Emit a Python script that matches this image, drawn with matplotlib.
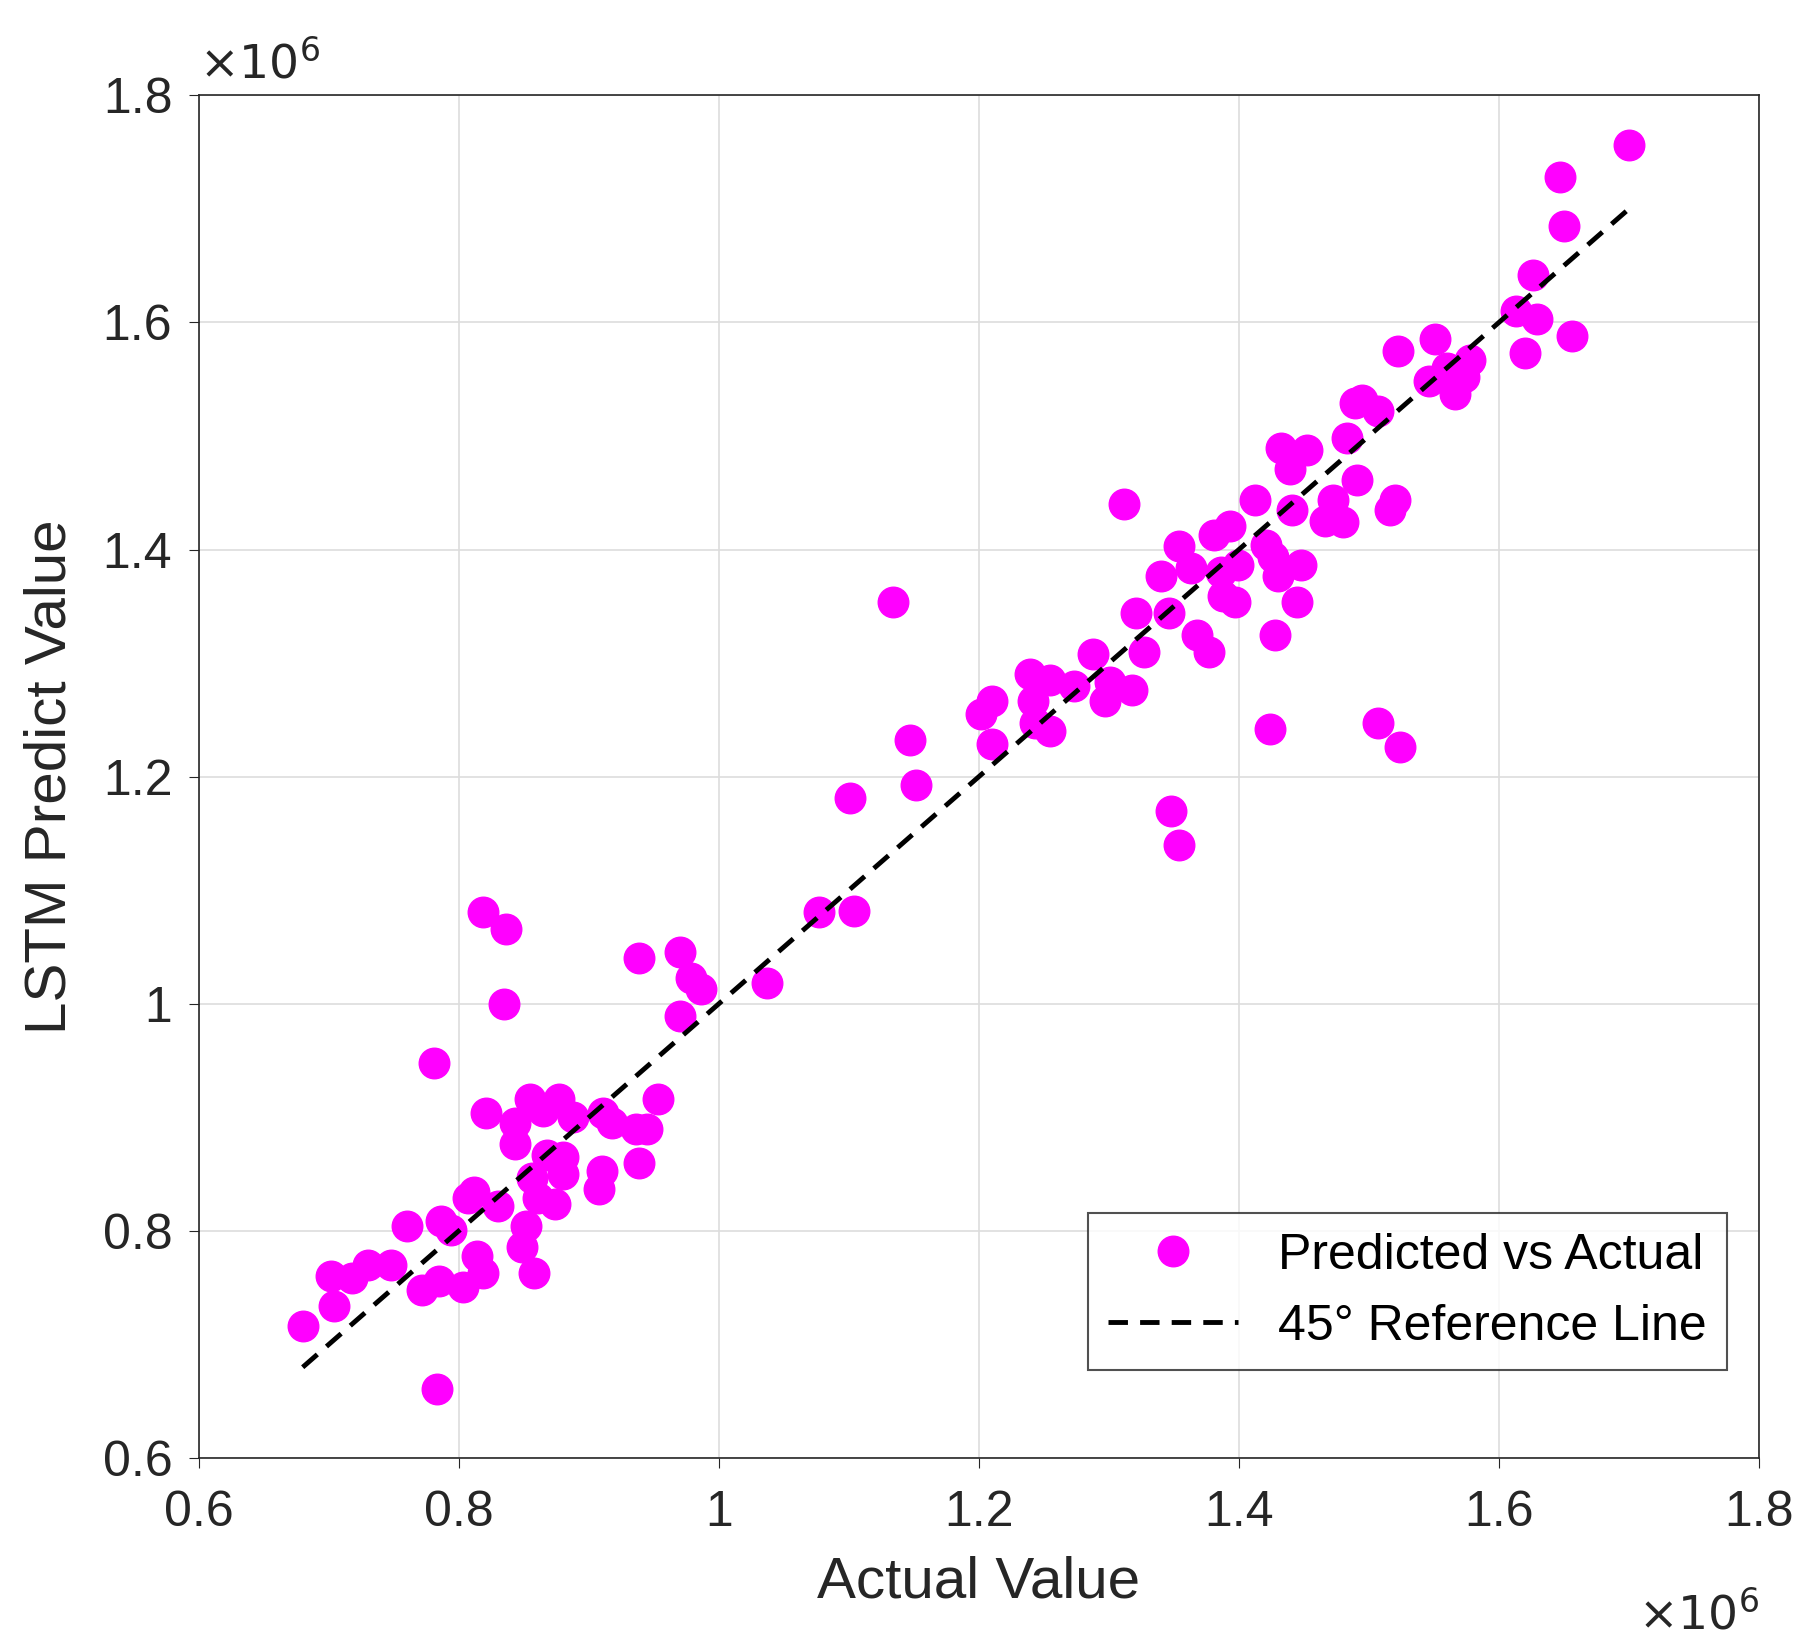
import numpy as np
import matplotlib.pyplot as plt
from matplotlib.ticker import FuncFormatter

plt.rcParams['font.family'] = 'Liberation Sans'

# actual / predicted values (x1e6)
actual = [0.680, 0.702, 0.704, 0.718, 0.730, 0.748, 0.760, 0.772, 0.781, 0.783, 0.786, 0.785,
          0.794, 0.803, 0.807, 0.812, 0.814, 0.819, 0.819, 0.821, 0.830, 0.836, 0.835, 0.843,
          0.843, 0.849, 0.852, 0.855, 0.856, 0.858, 0.861, 0.865, 0.868, 0.874, 0.877, 0.880,
          0.880, 0.888, 0.908, 0.910, 0.911, 0.918, 0.936, 0.939, 0.939, 0.945, 0.953, 0.970,
          0.970, 0.979, 0.986, 1.037, 1.077, 1.104, 1.101, 1.134, 1.147, 1.152, 1.202, 1.210,
          1.210, 1.239, 1.242, 1.243, 1.255, 1.255, 1.273, 1.288, 1.297, 1.301, 1.318, 1.312,
          1.321, 1.327, 1.340, 1.346, 1.348, 1.354, 1.354, 1.363, 1.368, 1.377, 1.381, 1.386,
          1.388, 1.393, 1.397, 1.399, 1.412, 1.421, 1.424, 1.426, 1.428, 1.430, 1.432, 1.439,
          1.441, 1.445, 1.448, 1.452, 1.466, 1.472, 1.480, 1.483, 1.489, 1.491, 1.495, 1.507,
          1.507, 1.516, 1.520, 1.522, 1.524, 1.546, 1.551, 1.560, 1.566, 1.573, 1.578, 1.613,
          1.620, 1.626, 1.629, 1.647, 1.650, 1.656, 1.700]
predicted = [0.716, 0.760, 0.734, 0.759, 0.770, 0.770, 0.804, 0.748, 0.948, 0.661, 0.809, 0.756,
             0.801, 0.751, 0.829, 0.834, 0.778, 0.763, 1.081, 0.904, 0.822, 1.066, 1.000, 0.895,
             0.877, 0.786, 0.804, 0.916, 0.847, 0.763, 0.829, 0.906, 0.867, 0.824, 0.916, 0.865,
             0.850, 0.900, 0.837, 0.853, 0.904, 0.895, 0.890, 0.860, 1.040, 0.890, 0.916, 0.989,
             1.046, 1.023, 1.013, 1.018, 1.081, 1.082, 1.181, 1.354, 1.232, 1.193, 1.255, 1.267,
             1.229, 1.290, 1.267, 1.247, 1.285, 1.240, 1.280, 1.308, 1.267, 1.283, 1.276, 1.440,
             1.344, 1.310, 1.377, 1.344, 1.170, 1.403, 1.140, 1.384, 1.325, 1.310, 1.413, 1.380,
             1.359, 1.421, 1.354, 1.386, 1.444, 1.404, 1.242, 1.393, 1.325, 1.377, 1.489, 1.471,
             1.435, 1.354, 1.386, 1.488, 1.425, 1.444, 1.424, 1.498, 1.529, 1.461, 1.532, 1.522,
             1.247, 1.435, 1.444, 1.575, 1.226, 1.548, 1.585, 1.560, 1.537, 1.552, 1.567, 1.610,
             1.573, 1.642, 1.603, 1.728, 1.685, 1.588, 1.756]
actual = np.array(actual) * 1e6
predicted = np.array(predicted) * 1e6
ref_line = np.array([0.680, 1.700]) * 1e6

fig = plt.figure(figsize=(18.06, 16.42), dpi=100)
ax = fig.add_axes([0.110, 0.112, 0.864, 0.830])

ax.plot(actual, predicted, 'o', color='#ff00ff', markersize=22, label='Predicted vs Actual')
ax.plot(ref_line, ref_line, '--', color='black', lw=3.5, dashes=(4, 2.5), label='45° Reference Line')

ax.set_xlim(0.6e6, 1.8e6)
ax.set_ylim(0.6e6, 1.8e6)
ticks = np.arange(0.6, 1.81, 0.2) * 1e6
ax.set_xticks(ticks)
ax.set_yticks(ticks)
fmt = FuncFormatter(lambda v, p: f'{v/1e6:g}')
ax.xaxis.set_major_formatter(fmt)
ax.yaxis.set_major_formatter(fmt)
ax.tick_params(labelsize=36, direction='out', length=7, colors='#262626')
ax.tick_params(axis='x', pad=16)
ax.tick_params(axis='y', pad=12)
ax.grid(True, color='#dddddd', lw=1.2)
for s in ax.spines.values():
    s.set_color('#262626')
    s.set_linewidth(1.2)

ax.text(0.0, 1.005, r'$\times10^6$', transform=ax.transAxes, fontsize=34, color='#262626',
        ha='left', va='bottom', math_fontfamily='dejavusans')
ax.text(1.0, -0.098, r'$\times10^6$', transform=ax.transAxes, fontsize=34, color='#262626',
        ha='right', va='top', math_fontfamily='dejavusans')

ax.set_xlabel('Actual Value', fontsize=42, color='#262626', labelpad=14)
ax.set_ylabel('LSTM Predict Value', fontsize=42, color='#262626', labelpad=18)

leg = ax.legend(loc='lower right', fontsize=36, frameon=True, fancybox=False,
                edgecolor='#262626', borderaxespad=0.4, bbox_to_anchor=(0.992, 0.05),
                handlelength=2.6, borderpad=0.4, labelspacing=0.5)
leg.get_frame().set_linewidth(1.5)

fig.savefig('out.png', dpi=100)
